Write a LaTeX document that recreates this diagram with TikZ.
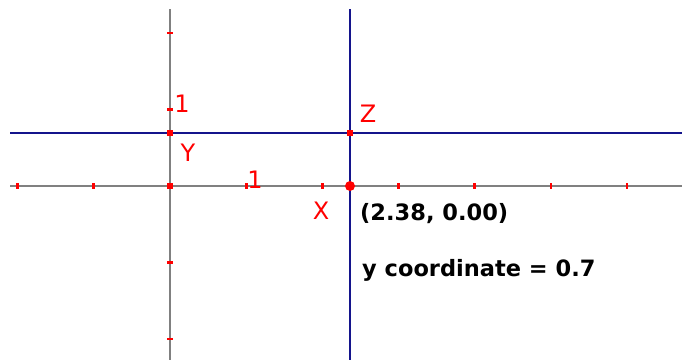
\documentclass[tikz,border=0pt]{standalone}
\usepackage{fontspec}
\setmainfont{DejaVu Sans}
\definecolor{axisgray}{RGB}{128,128,128}
\definecolor{lineblue}{RGB}{20,20,140}
\definecolor{ptred}{RGB}{255,0,0}
\begin{document}
\begin{tikzpicture}[x=1pt,y=-1pt,
  axis/.style={axisgray,line width=1.6pt},
  bline/.style={lineblue,line width=1.4pt},
  tick/.style={ptred,line width=2.4pt},
  lbl/.style={text=ptred,font=\fontsize{24}{26}\selectfont,inner sep=0pt},
  info/.style={text=black,font=\fontsize{22.5}{25}\selectfont\bfseries,inner sep=0pt,anchor=west},
  sqpt/.style={fill=ptred,minimum size=6pt,inner sep=0pt,rectangle},
  bigpt/.style={fill=ptred,circle,minimum size=10pt,inner sep=0pt}]
\useasboundingbox[fill=white] (0,0) rectangle (682,360);
% axis and line end coordinates
\coordinate (xl) at (10,186);
\coordinate (xr) at (682,186);
\coordinate (yt) at (170,9);
\coordinate (yb) at (170,360);
\coordinate (hl) at (10,133);
\coordinate (hr) at (682,133);
\coordinate (vt) at (350,9);
\coordinate (vb) at (350,360);
\draw[axis] (xl) -- (xr);
\draw[axis] (yt) -- (yb);
% ticks
\foreach \x in {17.5,93.6,246.3,322.4,398.5,474.6,550.7,626.8}
  \draw[tick] (\x,183) -- (\x,189);
\foreach \y in {33,109.5,262.5,339}
  \draw[tick] (167,\y) -- (173,\y);
\draw[bline] (hl) -- (hr);
\draw[bline] (vt) -- (vb);
% points
\node[sqpt] (O) at (170,186) {};
\node[sqpt] (Y) at (170,133) {};
\node[sqpt] (Z) at (350,133) {};
\node[bigpt] (X) at (350,186) {};
% labels
\node[lbl] (one1) at (182,104) {1};
\node[lbl] (one2) at (255,180) {1};
\node[lbl] (ly) at (188,153) {Y};
\node[lbl] (lz) at (368,114) {Z};
\node[lbl] (lx) at (321,211) {X};
\node[info] (coord) at (360,214) {(2.38, 0.00)};
\node[info] (ycoord) at (362,270) {y coordinate = 0.7};
\end{tikzpicture}
\end{document}
